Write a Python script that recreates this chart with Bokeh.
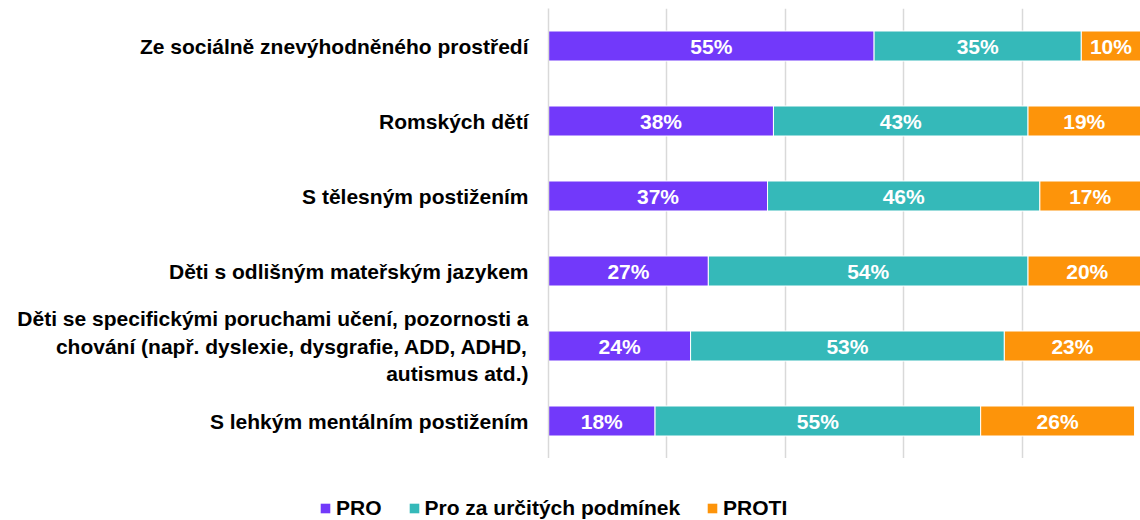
from bokeh.plotting import figure
from bokeh.layouts import column
from bokeh.models import ColumnDataSource, FactorRange, FixedTicker, Legend, LegendItem
from bokeh.core.properties import value
from bokeh.embed import file_html
from bokeh.resources import INLINE

categories = [
    "Ze sociálně znevýhodněného prostředí",
    "Romských dětí",
    "S tělesným postižením",
    "Děti s odlišným mateřským jazykem",
    "Děti se specifickými poruchami učení, pozornosti a\nchování (např. dyslexie, dysgrafie, ADD, ADHD,\nautismus atd.)",
    "S lehkým mentálním postižením",
]
pro = [55, 38, 37, 27, 24, 18]
pro_podm = [35, 43, 46, 54, 53, 55]
proti = [10, 19, 17, 20, 23, 26]
series_names = ["PRO", "Pro za určitých podmínek", "PROTI"]
colors = ["#7239FA", "#35B9B9", "#FD940A"]
grid_ticks = [0, 20, 40, 60, 80, 100]

FONT = "Liberation Sans"

source = ColumnDataSource(dict(cat=categories, pro=pro, podm=pro_podm, proti=proti))

p = figure(
    y_range=FactorRange(*list(reversed(categories))),
    x_range=(0, 100),
    frame_width=592, frame_height=450,
    min_border_left=548, min_border_right=0, min_border_top=8, min_border_bottom=0,
    output_backend="svg", toolbar_location=None,
)
p.outline_line_color = None

p.hbar_stack(["pro", "podm", "proti"], y="cat", height=0.4, color=colors,
             line_color="white", line_width=1, source=source)

keys = ["pro", "podm", "proti"]
for i, key in enumerate(keys):
    vals = source.data[key]
    starts = [0] * len(categories)
    for k in keys[:i]:
        starts = [s + v for s, v in zip(starts, source.data[k])]
    mids = [s + v / 2 for s, v in zip(starts, vals)]
    txt = [f"{v}%" for v in vals]
    p.text(x=mids, y=categories, text=txt, text_align="center", text_baseline="middle",
           text_color="white", text_font=value(FONT), text_font_style="bold",
           text_font_size="21px")

p.xaxis.visible = False
p.xgrid.ticker = FixedTicker(ticks=grid_ticks)
p.xgrid.grid_line_color = "#D9D9D9"
p.xgrid.grid_line_width = 1.5
p.ygrid.grid_line_color = None

ax = p.yaxis[0]
ax.axis_line_color = "#D9D9D9"
ax.axis_line_width = 1.5
ax.major_tick_line_color = None
ax.minor_tick_line_color = None
ax.major_label_standoff = 14
ax.major_label_text_font = FONT
ax.major_label_text_font_style = "bold"
ax.major_label_text_font_size = "21px"
ax.major_label_text_color = "black"

# legend in its own strip below the chart
lf = figure(width=1140, height=62, x_range=(0, 1), y_range=(0, 1),
            min_border=0, output_backend="svg", toolbar_location=None)
lf.frame_align = False
lf.outline_line_color = None
lf.axis.visible = False
lf.grid.visible = False
dummies = [lf.hbar(y=[0], left=[0], right=[0], height=0, color=c, line_color=None)
           for c in colors]
legend = Legend(
    items=[LegendItem(label=n, renderers=[r]) for n, r in zip(series_names, dummies)],
    orientation="horizontal",
    location=(319, 0),
    glyph_width=12, glyph_height=12,
    label_standoff=5, spacing=26, padding=0, margin=0,
    border_line_alpha=0, background_fill_alpha=0,
    label_text_font=FONT, label_text_font_style="bold", label_text_font_size="21px",
    label_text_color="black",
)
lf.add_layout(legend, "center")

layout = column(p, lf, spacing=0)
open("out.html", "w").write(file_html(layout, INLINE))
